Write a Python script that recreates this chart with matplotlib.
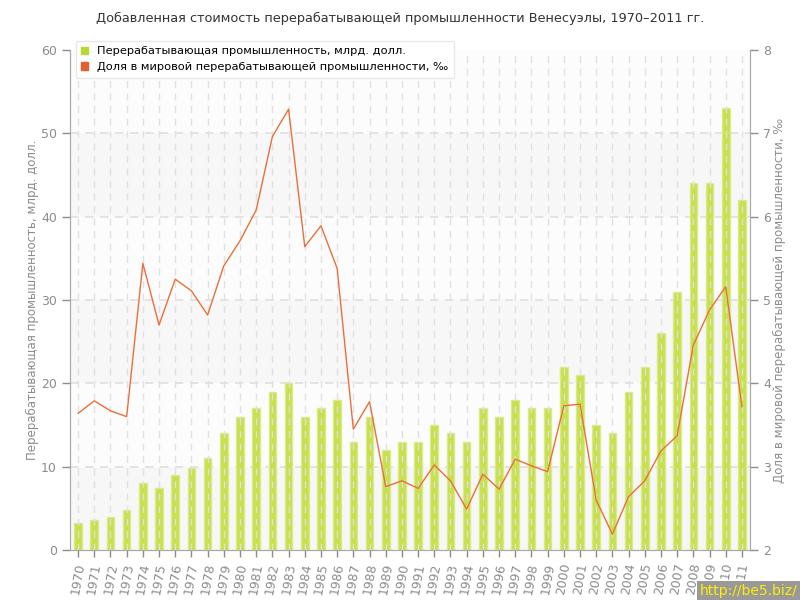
import numpy as np
import matplotlib.pyplot as plt
from matplotlib.patches import Patch

years = list(range(1970, 2012))

# value added, bn USD (left axis)
value_added = [3.2, 3.6, 4.0, 4.8, 8.0, 7.5, 9.0, 9.9, 11, 14,
               16, 17, 19, 20, 16, 17, 18, 13, 16, 12,
               13, 13, 15, 14, 13, 17, 16, 18, 17, 17,
               22, 21, 15, 14, 19, 22, 26, 31, 44, 44,
               53, 42]

# share of world manufacturing, per mille (right axis)
world_share = [3.64, 3.79, 3.67, 3.60, 5.44, 4.70, 5.25, 5.11, 4.82, 5.41,
               5.71, 6.08, 6.96, 7.29, 5.64, 5.89, 5.38, 3.45, 3.78, 2.76,
               2.83, 2.74, 3.02, 2.83, 2.49, 2.91, 2.73, 3.09, 3.01, 2.94,
               3.73, 3.75, 2.60, 2.19, 2.64, 2.83, 3.19, 3.37, 4.46, 4.88,
               5.16, 3.72]

title = 'Добавленная стоимость перерабатывающей промышленности Венесуэлы, 1970–2011 гг.'
left_label = 'Перерабатывающая промышленность, млрд. долл.'
right_label = 'Доля в мировой перерабатывающей промышленности, ‰'
legend_labels = ['Перерабатывающая промышленность, млрд. долл.',
                 'Доля в мировой перерабатывающей промышленности, ‰']

gray = '#8c8c8c'
bar_color = '#c8e04c'
bar_edge = '#d9ec8c'
line_color = '#e8703c'

plt.rcParams['font.family'] = ['DejaVu Sans']

fig = plt.figure(figsize=(8, 6), dpi=100)
ax = fig.add_axes([70 / 800, 50 / 600, 680 / 800, 500 / 600])
ax2 = ax.twinx()

ax.set_xlim(1969.5, 2011.5)
ax.set_ylim(0, 60)
ax2.set_ylim(2, 8)

# alternating background bands
ax.set_facecolor('#fcfcfc')
for lo in range(0, 60, 20):
    ax.axhspan(lo, lo + 10, color='#f7f7f7', zorder=0, lw=0)

ax.bar(years, value_added, width=0.47, color=bar_color, edgecolor=bar_edge,
       linewidth=1, zorder=2)

for y in years:
    ax.axvline(y, color='#e0e0e0', lw=1, ls=(0, (5, 4)), zorder=3)
for v in range(10, 60, 10):
    ax.axhline(v, color='#e0e0e0', lw=1.2, ls=(0, (5, 4)), zorder=1)

ax2.plot(years, world_share, color=line_color, lw=1, zorder=4)

ax.set_xticks(years)
ax.set_xticklabels([str(y) for y in years], rotation=80, fontsize=9, color=gray)
ax.set_yticks(range(0, 61, 10))
ax2.set_yticks(range(2, 9))
ax.tick_params(axis='y', colors=gray, labelsize=9, length=6, width=1, labelcolor=gray)
ax2.tick_params(axis='y', colors=gray, labelsize=9, length=6, width=1, labelcolor=gray)
ax.tick_params(axis='x', colors=gray, length=5, width=1, labelcolor=gray)

for a in (ax, ax2):
    for s in a.spines.values():
        s.set_color('#aaaaaa')
    a.spines['top'].set_visible(False)

ax.set_ylabel(left_label, color=gray, fontsize=8.5, labelpad=1)
ax2.set_ylabel(right_label, color=gray, fontsize=8.5, labelpad=1)

fig.text(0.5, 0.97, title, ha='center', va='center', fontsize=9.3, color='#333333')

# legend
handles = [Patch(color='#b8d830'), Patch(color='#e06030')]
leg = ax2.legend(handles, legend_labels, loc='upper left',
                 bbox_to_anchor=(0.0, 1.03), fontsize=8.2, frameon=True,
                 handlelength=0.6, handleheight=0.6, handletextpad=0.8,
                 borderpad=0.5, labelspacing=0.5, fancybox=True, shadow=False)
leg.get_frame().set_edgecolor('#e8e8e8')
leg.get_frame().set_facecolor('white')
leg.get_frame().set_alpha(1)
leg.set_zorder(10)

fig.text(0.997, 0.003, 'http://be5.biz/', ha='right', va='bottom', fontsize=10,
         color='#ffee00', bbox=dict(facecolor='#999999', edgecolor='none', pad=2))

fig.savefig('out.png', dpi=100)
